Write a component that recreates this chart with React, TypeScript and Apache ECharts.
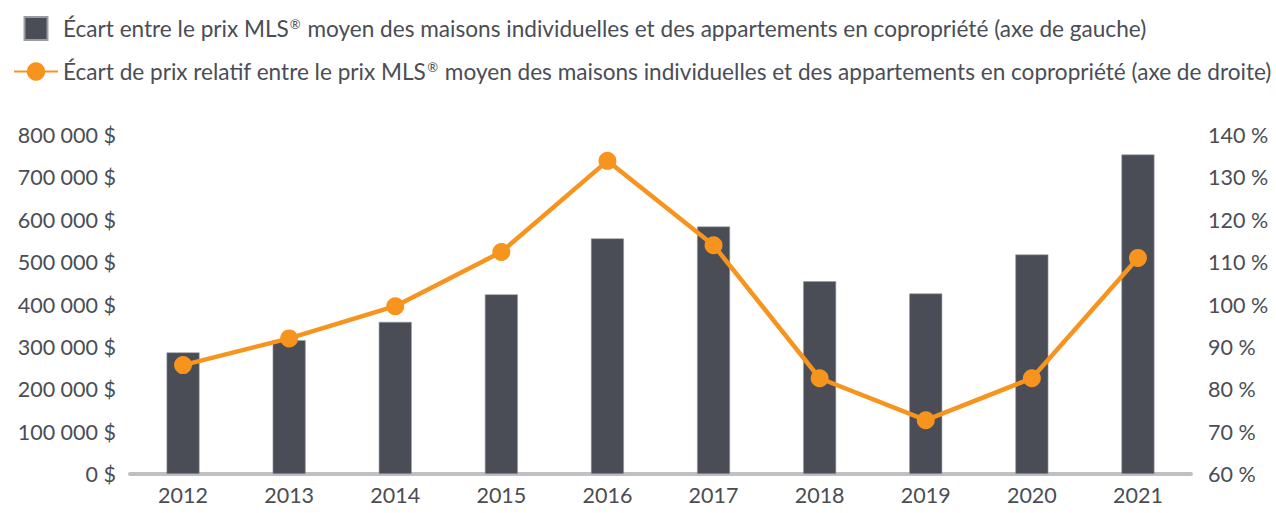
import React, { useEffect, useRef } from "react";
import * as echarts from "echarts";

const years = ["2012", "2013", "2014", "2015", "2016", "2017", "2018", "2019", "2020", "2021"];
const priceGap = [287000, 316000, 359000, 424000, 556000, 584000, 455000, 426000, 518000, 754000];
const relativeGap = [85.7, 92.0, 99.6, 112.4, 133.9, 114.0, 82.6, 72.7, 82.6, 111.0];
const barName = "Écart entre le prix MLS® moyen des maisons individuelles et des appartements en copropriété (axe de gauche)";
const lineName = "Écart de prix relatif entre le prix MLS® moyen des maisons individuelles et des appartements en copropriété (axe de droite)";

const FONT = "Lato";
const TEXT = "#4a4d55";

function fmtThousands(v: number): string {
  return String(v).replace(/\B(?=(\d{3})+(?!\d))/g, " ");
}

function legendRich(name: string): string {
  const parts = name.split("®");
  return "{t|" + parts[0] + "}{s|®}{t|" + parts[1] + "}";
}

export default function App() {
  const ref = useRef<HTMLDivElement>(null);
  useEffect(() => {
    if (!ref.current) return;
    const chart = echarts.init(ref.current, undefined, { renderer: "svg" });
    chart.setOption({
      animation: false,
      textStyle: { fontFamily: FONT },
      legend: {
        orient: "vertical",
        left: 8,
        top: 11,
        itemWidth: 44,
        itemHeight: 23,
        itemGap: 19,
        selectedMode: false,
        data: [
          { name: barName, icon: "path://M0,0h10v10h-10z" },
          { name: lineName },
        ],
        formatter: (n: string) => legendRich(n),
        textStyle: {
          color: TEXT,
          fontFamily: FONT,
          fontSize: 22.6,
          padding: 0,
          rich: {
            t: { fontSize: 22.6, fontFamily: FONT, color: TEXT, lineHeight: 23, verticalAlign: "bottom" },
            s: { fontSize: 13, fontFamily: FONT, color: TEXT, lineHeight: 23, verticalAlign: "top", padding: [0, 1, 9, 1] },
          },
        },
      },
      grid: { left: 130, right: 85, top: 135, bottom: 39 },
      xAxis: {
        type: "category",
        data: years,
        axisLine: { show: true, lineStyle: { color: "#c0bfc4", width: 4 } },
        axisTick: { show: false },
        axisLabel: { color: TEXT, fontSize: 21.5, fontFamily: FONT, margin: 10 },
      },
      yAxis: [
        {
          type: "value",
          min: 0,
          max: 800000,
          interval: 100000,
          splitLine: { show: false },
          axisLine: { show: false },
          axisTick: { show: false },
          axisLabel: {
            color: TEXT,
            fontSize: 21.5,
            fontFamily: FONT,
            margin: 14,
            formatter: (v: number) => fmtThousands(v) + " $",
          },
        },
        {
          type: "value",
          min: 60,
          max: 140,
          interval: 10,
          splitLine: { show: false },
          axisLine: { show: false },
          axisTick: { show: false },
          axisLabel: {
            color: TEXT,
            fontSize: 21.5,
            fontFamily: FONT,
            margin: 17,
            formatter: (v: number) => v + " %",
          },
        },
      ],
      series: [
        {
          name: barName,
          type: "bar",
          data: priceGap,
          barWidth: 33,
          itemStyle: { color: "#4a4d55", borderColor: "#9a9ca2", borderWidth: 0.6 },
        },
        {
          name: lineName,
          type: "line",
          yAxisIndex: 1,
          data: relativeGap,
          symbol: "circle",
          symbolSize: 18,
          lineStyle: { color: "#f7941d", width: 4.5 },
          itemStyle: { color: "#f7941d" },
        },
      ],
    });
    return () => chart.dispose();
  }, []);
  return <div ref={ref} style={{ width: 1276, height: 513, position: "absolute", left: 0, top: 0 }} />;
}
